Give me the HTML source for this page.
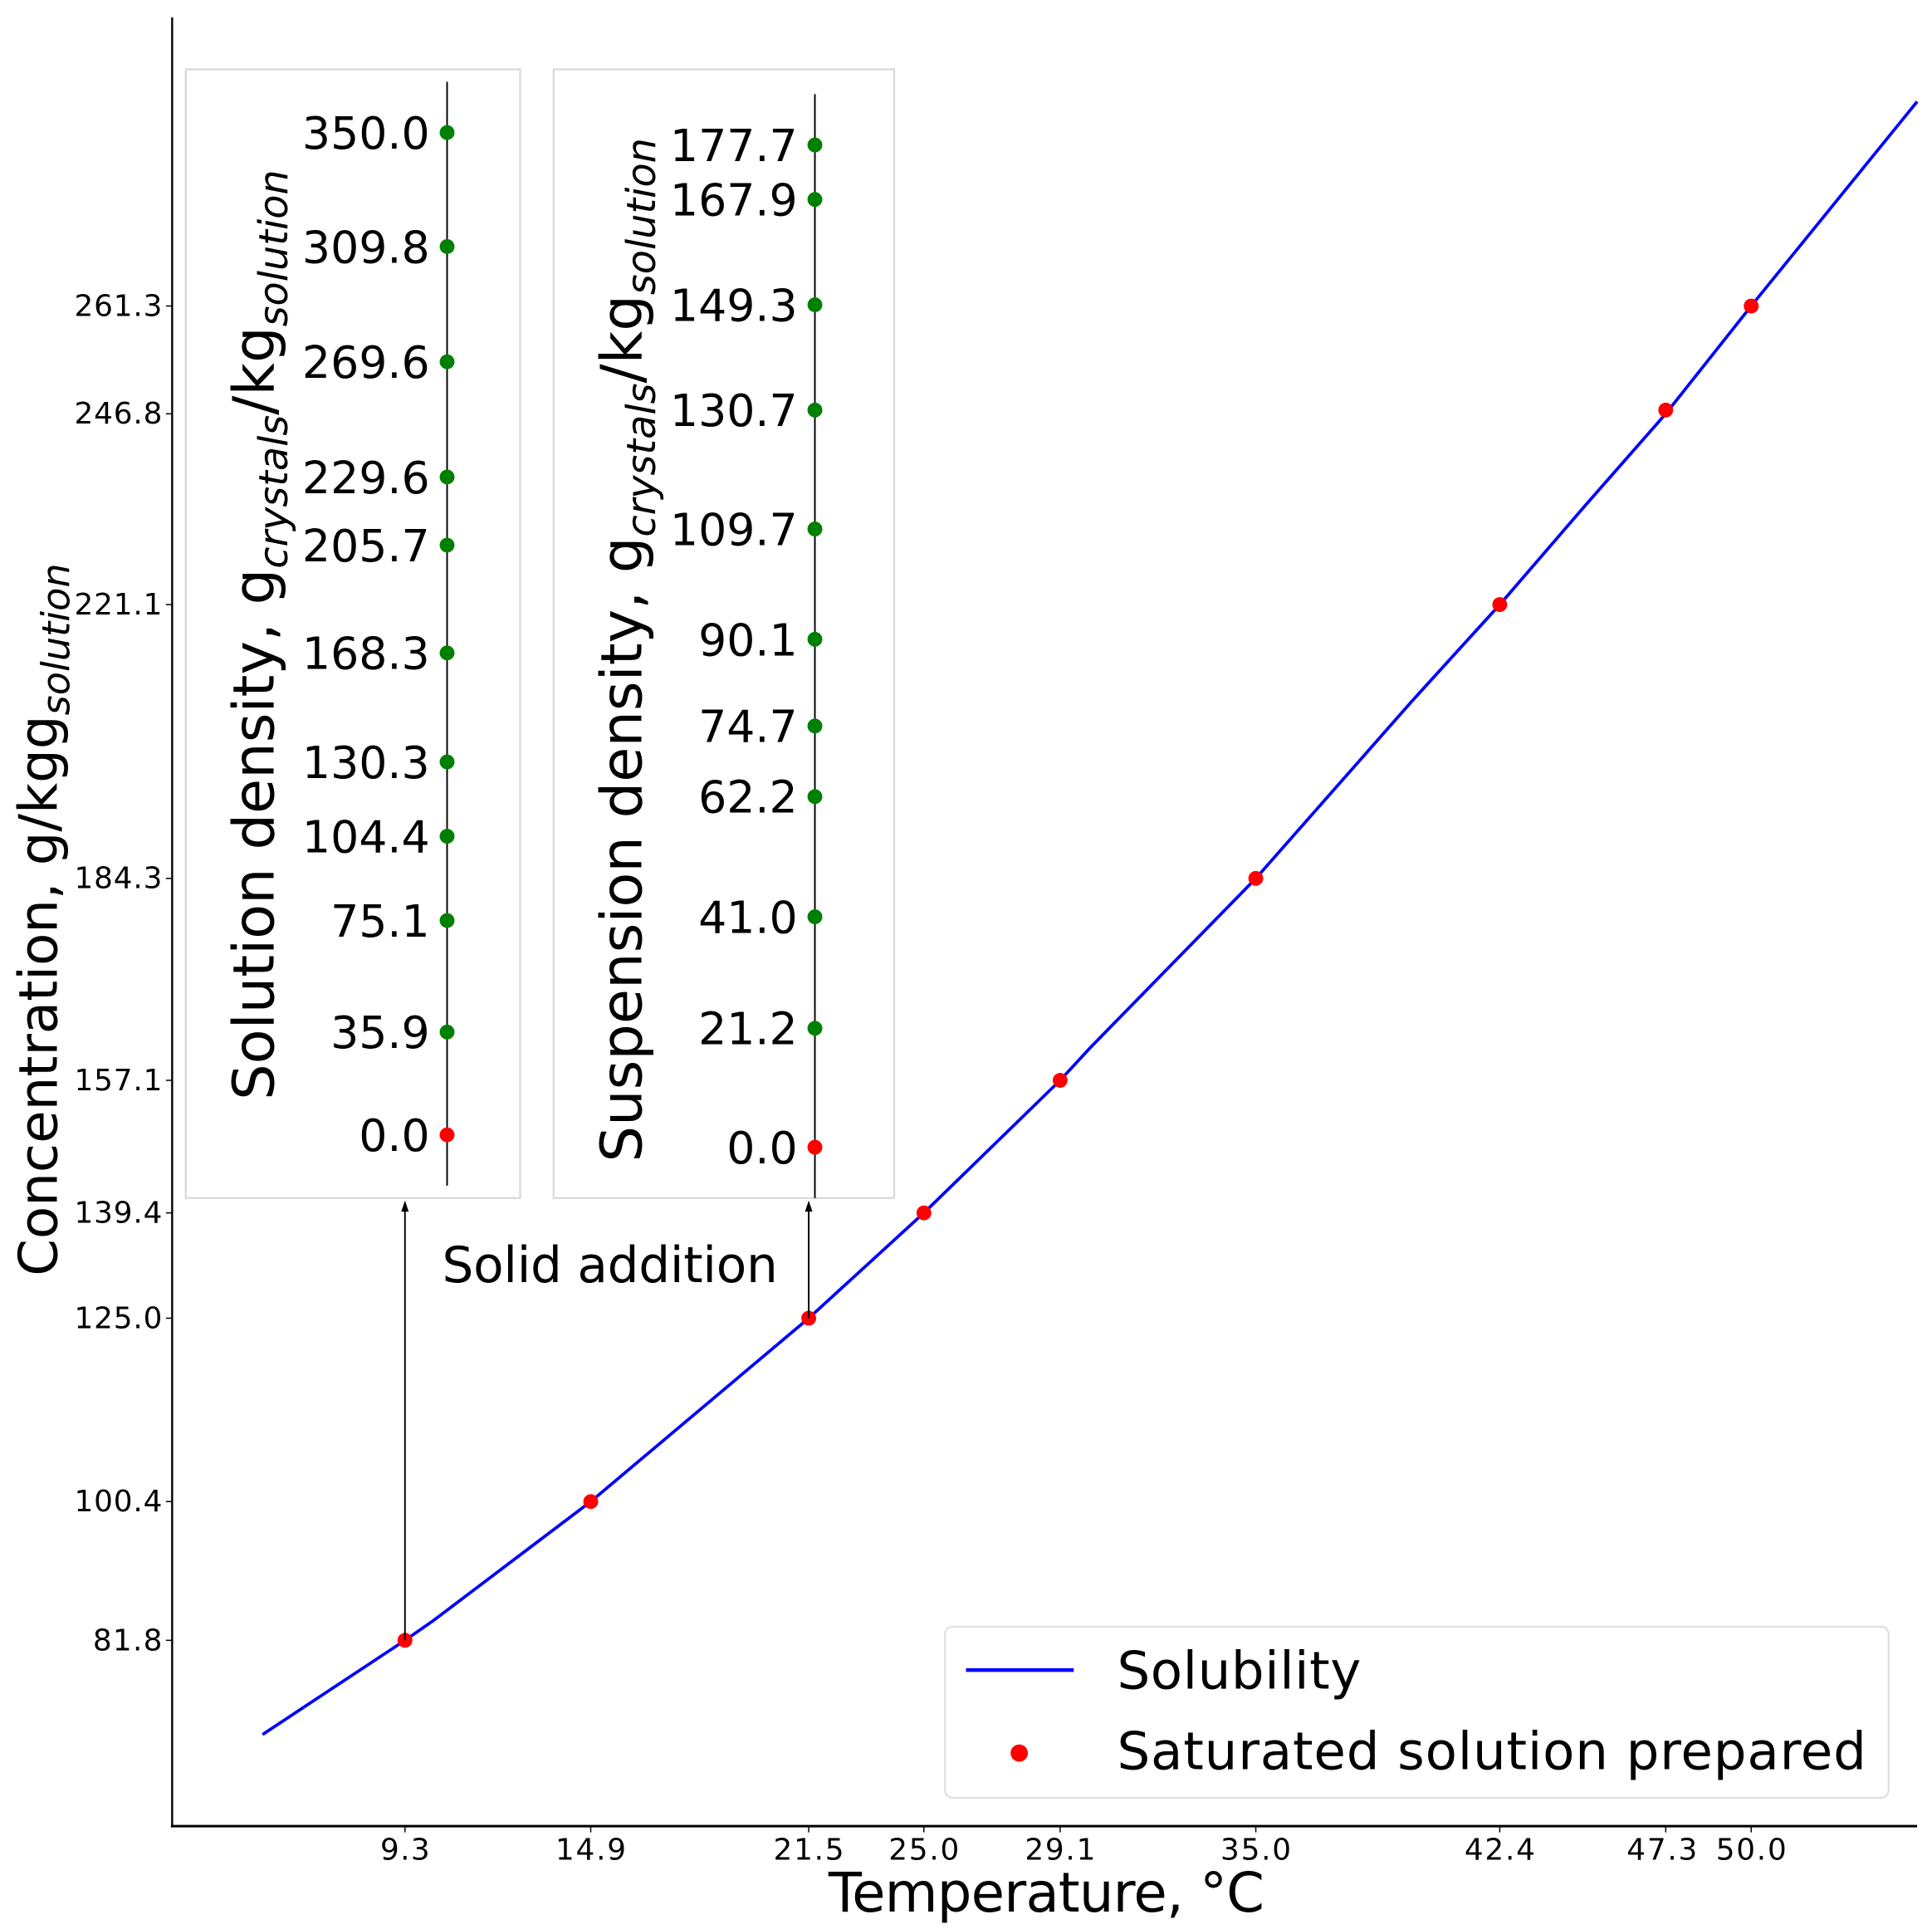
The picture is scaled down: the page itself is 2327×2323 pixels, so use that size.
<!DOCTYPE html>
<html><head><meta charset="utf-8"><style>
html,body{margin:0;padding:0;background:#fff;}
svg{display:block;}
text{font-family:"DejaVu Sans","Liberation Sans",sans-serif;fill:#000;}
</style></head><body>
<svg width="2327" height="2323" viewBox="0 0 1560 1557" preserveAspectRatio="none" xmlns="http://www.w3.org/2000/svg">
<!-- axes -->
<line x1="139" y1="14" x2="139" y2="1475" stroke="#000" stroke-width="1.6"/>
<line x1="138" y1="1474" x2="1548" y2="1474" stroke="#000" stroke-width="2"/>
<!-- y ticks -->
<g font-size="24" text-anchor="end">
<text x="131" y="255" textLength="71">261.3</text>
<text x="131" y="342" textLength="71">246.8</text>
<text x="131" y="496" textLength="71">221.1</text>
<text x="131" y="717" textLength="71">184.3</text>
<text x="131" y="880" textLength="71">157.1</text>
<text x="131" y="987" textLength="71">139.4</text>
<text x="131" y="1072" textLength="71">125.0</text>
<text x="131" y="1220" textLength="71">100.4</text>
<text x="131" y="1332" textLength="56">81.8</text>
</g>
<g stroke="#000" stroke-width="1">
<line x1="134" y1="247" x2="139" y2="247"/><line x1="134" y1="334" x2="139" y2="334"/><line x1="134" y1="488" x2="139" y2="488"/><line x1="134" y1="709" x2="139" y2="709"/><line x1="134" y1="872" x2="139" y2="872"/><line x1="134" y1="979" x2="139" y2="979"/><line x1="134" y1="1064" x2="139" y2="1064"/><line x1="134" y1="1212" x2="139" y2="1212"/><line x1="134" y1="1324" x2="139" y2="1324"/>
<line x1="327" y1="1474" x2="327" y2="1479"/><line x1="477" y1="1474" x2="477" y2="1479"/><line x1="653" y1="1474" x2="653" y2="1479"/><line x1="746" y1="1474" x2="746" y2="1479"/><line x1="856" y1="1474" x2="856" y2="1479"/><line x1="1014" y1="1474" x2="1014" y2="1479"/><line x1="1211" y1="1474" x2="1211" y2="1479"/><line x1="1345" y1="1474" x2="1345" y2="1479"/><line x1="1414" y1="1474" x2="1414" y2="1479"/>
</g>
<g font-size="24" text-anchor="middle">
<text x="327" y="1501" textLength="40">9.3</text>
<text x="477" y="1501" textLength="57">14.9</text>
<text x="653" y="1501" textLength="57">21.5</text>
<text x="746" y="1501" textLength="57">25.0</text>
<text x="856" y="1501" textLength="57">29.1</text>
<text x="1014" y="1501" textLength="57">35.0</text>
<text x="1211" y="1501" textLength="57">42.4</text>
<text x="1342" y="1501" textLength="57">47.3</text>
<text x="1414" y="1501" textLength="57">50.0</text>
</g>
<text x="845" y="1543" font-size="44" text-anchor="middle" textLength="352">Temperature, °C</text>
<text transform="translate(46,1030) rotate(-90)" font-size="43">Concentration, g/kgg<tspan font-size="31" font-style="italic" dy="10">solution</tspan></text>
<!-- curve -->
<polyline fill="none" stroke="#0000ff" stroke-width="2.5" points="212,1400 327,1324 350,1308 477,1212 653,1064 746,979 856,872 880,846 1014,709 1140,566 1211,488 1280,408 1345,334 1414,247 1548,82"/>
<g fill="#ff0000">
<circle cx="327" cy="1324" r="6"/><circle cx="477" cy="1212" r="6"/><circle cx="653" cy="1064" r="6"/><circle cx="746" cy="979" r="6"/><circle cx="856" cy="872" r="6"/><circle cx="1014" cy="709" r="6"/><circle cx="1211" cy="488" r="6"/><circle cx="1345" cy="331" r="6"/><circle cx="1414" cy="247" r="6"/>
</g>
<!-- arrows -->
<line x1="327" y1="1324" x2="327" y2="975" stroke="#000" stroke-width="1.3"/>
<polygon points="327,969 324,978 330,978" fill="#000"/>
<line x1="653" y1="1064" x2="653" y2="975" stroke="#000" stroke-width="1.3"/>
<polygon points="653,969 650,978 656,978" fill="#000"/>
<text x="357" y="1035" font-size="40" textLength="271">Solid addition</text>
<!-- inset 1 -->
<rect x="150" y="56" width="270" height="911" fill="#fff" stroke="#d8d8d8" stroke-width="1.5"/>
<line x1="361" y1="66" x2="361" y2="957" stroke="#000" stroke-width="1.3"/>
<text transform="translate(221,888) rotate(-90)" font-size="46">Solution density, g<tspan font-size="32" font-style="italic" dy="11">crystals</tspan><tspan dy="-11">/kg</tspan><tspan font-size="32" font-style="italic" dy="11">solution</tspan></text>
<g font-size="36" text-anchor="end">
<text x="347" y="120">350.0</text><text x="347" y="212">309.8</text><text x="347" y="305">269.6</text><text x="347" y="398">229.6</text><text x="347" y="453">205.7</text><text x="347" y="540">168.3</text><text x="347" y="628">130.3</text><text x="347" y="688">104.4</text><text x="347" y="756">75.1</text><text x="347" y="846">35.9</text><text x="347" y="929">0.0</text>
</g>
<g fill="#008000">
<circle cx="361" cy="107" r="6"/><circle cx="361" cy="199" r="6"/><circle cx="361" cy="292" r="6"/><circle cx="361" cy="385" r="6"/><circle cx="361" cy="440" r="6"/><circle cx="361" cy="527" r="6"/><circle cx="361" cy="615" r="6"/><circle cx="361" cy="675" r="6"/><circle cx="361" cy="743" r="6"/><circle cx="361" cy="833" r="6"/>
</g>
<circle cx="361" cy="916" r="6" fill="#ff0000"/>
<!-- inset 2 -->
<rect x="447" y="56" width="275" height="911" fill="#fff" stroke="#d8d8d8" stroke-width="1.5"/>
<line x1="658" y1="76" x2="658" y2="967" stroke="#000" stroke-width="1.3"/>
<text transform="translate(518,938) rotate(-90)" font-size="46">Suspension density, g<tspan font-size="32" font-style="italic" dy="11">crystals</tspan><tspan dy="-11">/kg</tspan><tspan font-size="32" font-style="italic" dy="11">solution</tspan></text>
<g font-size="36" text-anchor="end">
<text x="644" y="130">177.7</text><text x="644" y="174">167.9</text><text x="644" y="259">149.3</text><text x="644" y="344">130.7</text><text x="644" y="440">109.7</text><text x="644" y="529">90.1</text><text x="644" y="599">74.7</text><text x="644" y="656">62.2</text><text x="644" y="753">41.0</text><text x="644" y="843">21.2</text><text x="644" y="939">0.0</text>
</g>
<g fill="#008000">
<circle cx="658" cy="117" r="6"/><circle cx="658" cy="161" r="6"/><circle cx="658" cy="246" r="6"/><circle cx="658" cy="331" r="6"/><circle cx="658" cy="427" r="6"/><circle cx="658" cy="516" r="6"/><circle cx="658" cy="586" r="6"/><circle cx="658" cy="643" r="6"/><circle cx="658" cy="740" r="6"/><circle cx="658" cy="830" r="6"/>
</g>
<circle cx="658" cy="926" r="6" fill="#ff0000"/>
<!-- legend -->
<rect x="763" y="1313" width="762" height="138" rx="6" fill="#fff" stroke="#e0e0e0" stroke-width="1.5"/>
<line x1="780" y1="1348" x2="867" y2="1348" stroke="#0000ff" stroke-width="3"/>
<text x="902" y="1363" font-size="42" textLength="197">Solubility</text>
<circle cx="823" cy="1415" r="7" fill="#ff0000"/>
<text x="902" y="1428" font-size="42" textLength="605">Saturated solution prepared</text>
</svg>
</body></html>
